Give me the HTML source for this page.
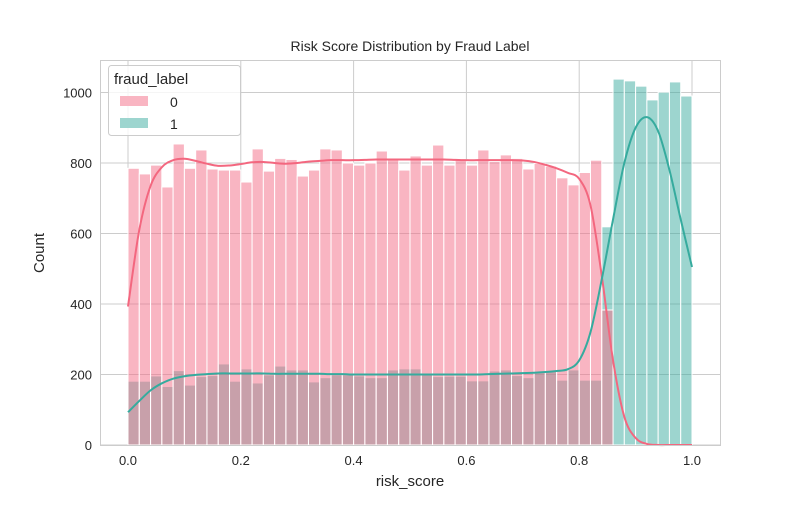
<!DOCTYPE html>
<html><head><meta charset="utf-8"><style>
body{margin:0;background:#fff;position:relative}
svg{font-family:"Liberation Sans","DejaVu Sans",sans-serif}
</style></head><body>
<svg id="chart" width="800" height="500">
<rect width="800" height="500" fill="#fff"/>
<g id="grid"></g><g id="bars"></g><g id="lines"></g><g id="axes"></g>
</svg>
<script>
const binStarts = Array.from({length:50},(_,i)=>i*0.02);
const countsLabel0 = [785,769,794,732,854,785,837,783,780,780,746,840,777,813,810,763,780,840,837,800,794,800,834,813,780,820,794,851,794,810,794,837,804,823,813,783,799,791,758,738,773,808,383,0,0,0,0,0,0,0];
const countsLabel1 = [181,181,196,166,211,170,194,197,230,181,216,176,199,224,213,213,179,191,199,199,196,191,191,213,216,216,201,194,195,195,182,182,210,213,197,191,208,208,184,213,184,184,619,1038,1033,1018,979,1001,1030,990];
const kdeX = Array.from({length:51},(_,i)=>i*0.02);
const kde0 = [393,610,735,788,808,812,806,798,792,793,797,802,803,800,798,800,804,806,808,808,808,809,810,810,810,810,810,810,810,809,808,808,808,808,808,807,803,795,785,772,755,680,480,240,80,20,3,0,0,0,0];
const kde1 = [93,125,155,175,188,195,199,201,203,203,203,203,203,202,202,202,202,202,201,201,200,200,200,200,200,200,200,200,200,200,200,200,201,202,203,204,205,207,210,215,240,320,470,640,800,900,930,890,780,640,505];
const xTicks = [0,0.2,0.4,0.6,0.8,1.0];
const xTickLabels = ["0.0","0.2","0.4","0.6","0.8","1.0"];
const yTicks = [0,200,400,600,800,1000];

const L=100,R=720,T=60,B=445;
const X=v=>128+v*564;
const Y=v=>B-v*0.3525;
const NS="http://www.w3.org/2000/svg";
function mk(tag,attrs,parent,text){const e=document.createElementNS(NS,tag);for(const k in attrs)e.setAttribute(k,attrs[k]);if(text!==undefined)e.textContent=text;parent.appendChild(e);return e;}
const grid=document.getElementById('grid'),bars=document.getElementById('bars'),lines=document.getElementById('lines'),axes=document.getElementById('axes');
xTicks.forEach((t,i)=>{
  const g=mk('line',{x1:X(t),x2:X(t),y1:T,y2:B,stroke:'#cccccc','stroke-width':1},grid);
  
  
  const tl=mk('text',{x:X(t),y:B+20,'font-size':13,'text-anchor':'middle',fill:'#262626'},axes,xTickLabels[i]);
  
  
});
yTicks.forEach(t=>{
  const g=mk('line',{x1:L,x2:R,y1:Y(t),y2:Y(t),stroke:'#cccccc','stroke-width':1},grid);
  
  
  const tl=mk('text',{x:L-8,y:Y(t)+5,'font-size':13,'text-anchor':'end',fill:'#262626'},axes,String(t));
  
  
});
const bw=0.02*564;
binStarts.forEach((s,i)=>{
  const b=countsLabel1[i];
  if(b>0){const r=mk('rect',{x:X(s),y:Y(b),width:bw,height:B-Y(b),fill:'rgb(59,171,159)','fill-opacity':0.5,stroke:'#fff','stroke-width':1},bars);
    
    }
});
binStarts.forEach((s,i)=>{
  const a=countsLabel0[i];
  if(a>0){const r=mk('rect',{x:X(s),y:Y(a),width:bw,height:B-Y(a),fill:'rgb(243,107,133)','fill-opacity':0.5,stroke:'#fff','stroke-width':1},bars);
    
    }
});
function smooth(xs,ys){
  const p=xs.map((x,i)=>[X(x),Y(ys[i])]);
  let d=`M${p[0][0]},${p[0][1]}`;
  for(let i=0;i<p.length-1;i++){
    const p0=p[Math.max(0,i-1)],p1=p[i],p2=p[i+1],p3=p[Math.min(p.length-1,i+2)];
    const c1=[p1[0]+(p2[0]-p0[0])/6,p1[1]+(p2[1]-p0[1])/6];
    const c2=[p2[0]-(p3[0]-p1[0])/6,p2[1]-(p3[1]-p1[1])/6];
    d+=`C${c1[0]},${c1[1]} ${c2[0]},${c2[1]} ${p2[0]},${p2[1]}`;
  }
  return d;
}
const k0=mk('path',{d:smooth(kdeX,kde0),fill:'none',stroke:'#f3677f','stroke-width':2},lines);


const k1=mk('path',{d:smooth(kdeX,kde1),fill:'none',stroke:'#36ab9e','stroke-width':2},lines);


</script>
<svg width="800" height="500" style="position:absolute;left:0;top:0">
<rect x="100.5" y="60.5" width="620" height="385" fill="none" stroke="#cccccc" stroke-width="1"/>
<text x="410" y="51" font-size="14" text-anchor="middle" fill="#262626" font-family="Liberation Sans, sans-serif">Risk Score Distribution by Fraud Label</text>
<text x="410" y="486" font-size="15" text-anchor="middle" fill="#262626" font-family="Liberation Sans, sans-serif">risk_score</text>
<text x="44" y="253" font-size="15" text-anchor="middle" fill="#262626" font-family="Liberation Sans, sans-serif" transform="rotate(-90 44 253)">Count</text>
<g font-family="Liberation Sans, sans-serif">
<rect x="108.5" y="65.5" width="132" height="70" rx="3" fill="#fff" fill-opacity="0.8" stroke="#cccccc"/>
<text x="114" y="84" font-size="15" fill="#262626">fraud_label</text>
<rect x="120" y="96" width="28" height="10" fill="#f9b5c2"/>
<text x="170" y="107" font-size="14" fill="#262626">0</text>
<rect x="120" y="118" width="28" height="10" fill="#9dd5cf"/>
<text x="170" y="129" font-size="14" fill="#262626">1</text>
</g>
</svg>
</body></html>
